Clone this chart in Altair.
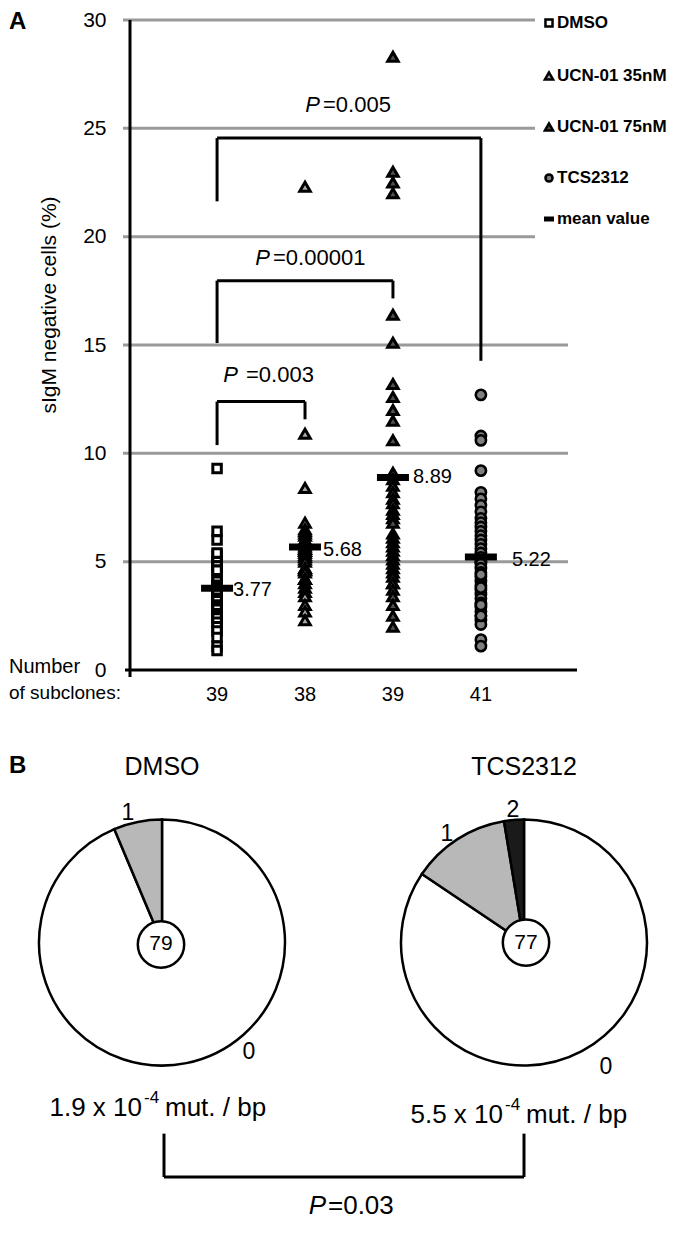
import altair as alt
import pandas as pd

FONT = "Liberation Sans"

# ---------------- data ----------------
groups = ["DMSO", "UCN-01 35nM", "UCN-01 75nM", "TCS2312"]
subclones = [39, 38, 39, 41]
means = [3.77, 5.68, 8.89, 5.22]
mean_labels = ["3.77", "5.68", "8.89", "5.22"]

dmso = [9.3, 6.4, 6.0, 5.3, 5.4, 4.9, 5.0, 5.0, 4.8, 4.8, 4.6, 4.6, 4.1, 4.1, 3.9,
        3.9, 3.8, 3.7, 3.6, 3.8, 3.8, 3.7, 3.6, 3.5, 3.3, 3.3, 3.2, 3.0, 2.9, 2.8,
        2.6, 2.5, 2.4, 2.2, 2.0, 1.8, 1.5, 1.1, 0.9]
ucn35 = [22.3, 10.9, 8.4, 6.8, 6.4, 6.5, 6.3, 6.2, 5.9, 6.0, 6.0, 5.9, 5.8, 5.6, 5.7,
         5.6, 5.5, 5.5, 5.4, 5.3, 5.2, 5.1, 5.0, 4.7, 4.6, 4.7, 4.6, 4.5, 4.2, 4.2,
         4.2, 4.0, 3.8, 3.6, 3.4, 3.0, 2.7, 2.3]
ucn75 = [28.3, 23.0, 22.5, 22.0, 16.4, 15.1, 13.2, 12.6, 12.0, 11.5, 10.6, 9.1, 8.8,
         8.5, 8.2, 7.9, 7.7, 7.4, 7.2, 7.0, 6.8, 6.3, 6.1, 5.9, 5.7, 5.5, 5.3, 5.1,
         4.9, 4.7, 4.5, 4.3, 4.0, 4.0, 3.7, 3.4, 3.0, 2.5, 2.0]
tcs = [12.7, 10.8, 10.6, 9.2, 8.2, 7.9, 7.6, 7.3, 7.0, 6.8, 6.6, 6.4, 6.2, 6.0, 5.8,
       5.6, 5.4, 5.2, 5.0, 5.0, 4.9, 4.7, 4.5, 4.3, 4.1, 3.9, 3.7, 3.5, 3.3, 3.1,
       2.9, 2.7, 2.5, 2.3, 2.1, 4.4, 3.0, 2.5, 1.4, 1.1, 3.8]
series = [dmso, ucn35, ucn75, tcs]

# significance brackets: (left group, right group, top, left foot, right foot, p)
brackets = [
    (0, 3, 24.55, 21.63, 14.27, "=0.005"),
    (0, 2, 17.97, 15.09, 17.15, "=0.00001"),
    (0, 1, 12.39, 10.38, 11.57, "=0.003"),
]

# panel B: number of mutations per sequence
mut_classes = ["0", "1", "2"]
pie_dmso = [74, 5]
pie_tcs = [65, 10, 2]
n_seq = ["79", "77"]
rates = ["1.9 x 10", "5.5 x 10"]

# ---------------- layout ----------------
PX0, PY0 = 130, 20          # page position of plot origin
W, H = 445, 650
grid_long = [5, 10, 15]
grid_short = [20, 25, 30]

one = pd.DataFrame({"k": [0]})


def px(x):
    return x - PX0


def py(y):
    return y - PY0


def vy(v):  # page y of a data value (panel A)
    return PY0 + H * (1 - v / 30.0)


def by(y):  # panel B vertical compression
    return 765 + (y - 765) * 0.965


yscale = alt.Scale(domain=[0, 30], nice=False)
yaxis = alt.Axis(values=[0, 5, 10, 15, 20, 25, 30], domain=False, ticks=False,
                 grid=False, labelFontSize=21, labelFont=FONT, labelColor="black",
                 labelPadding=24, title=None)
xscale = alt.Scale(domain=[-0.99, 4.07], nice=False, zero=False)


def Y(f):
    return alt.Y(f"{f}:Q", scale=yscale, axis=yaxis, title=None)


def X(f):
    return alt.X(f"{f}:Q", scale=xscale, axis=None, title=None)


def seg(x1, y1, x2, y2, w=3):
    return alt.Chart(one).mark_rule(color="black", strokeWidth=w).encode(
        x=alt.value(px(x1)), x2=alt.value(px(x2)),
        y=alt.value(py(y1)), y2=alt.value(py(y2)))


def txt(s, x, y, size=20, align="center", weight="normal", style="normal",
        angle=None, baseline="middle"):
    kw = dict(text=s, fontSize=size, align=align, baseline=baseline, font=FONT,
              fontWeight=weight, fontStyle=style, color="black")
    if angle is not None:
        kw["angle"] = angle
    return alt.Chart(one).mark_text(**kw).encode(x=alt.value(px(x)), y=alt.value(py(y)))


layers = []

# gridlines
layers.append(alt.Chart(pd.DataFrame({"v": grid_long})).mark_rule(
    color="#9a9a9a", strokeWidth=3).encode(y=Y("v"), x=alt.value(-7), x2=alt.value(438)))
layers.append(alt.Chart(pd.DataFrame({"v": grid_short})).mark_rule(
    color="#9a9a9a", strokeWidth=3).encode(y=Y("v"), x=alt.value(-7), x2=alt.value(405)))

# axes lines
layers.append(alt.Chart(one).mark_rule(color="black", strokeWidth=3).encode(
    x=alt.value(0), y=alt.value(0), y2=alt.value(H + 7)))
layers.append(alt.Chart(one).mark_rule(color="black", strokeWidth=3).encode(
    x=alt.value(-5), x2=alt.value(447), y=alt.value(H)))

# brackets
segs = []
for (a, b, top, fl, fr, _) in brackets:
    segs.append({"x": a, "x2": b, "y": top, "y2": top})
    segs.append({"x": a, "x2": a, "y": top, "y2": fl})
    segs.append({"x": b, "x2": b, "y": top, "y2": fr})
layers.append(alt.Chart(pd.DataFrame(segs)).mark_rule(color="black", strokeWidth=3).encode(
    x=X("x"), x2="x2:Q", y=Y("y"), y2="y2:Q"))

# points
styles = [
    dict(shape="square", fill="white", size=72, strokeWidth=3),
    dict(shape="triangle-up", fill="#a8a8a8", size=110, strokeWidth=3),
    dict(shape="triangle-up", fill="#505050", size=110, strokeWidth=3),
    dict(shape="circle", fill="#808080", size=105, strokeWidth=2.6),
]
for i, (vals, st) in enumerate(zip(series, styles)):
    df = pd.DataFrame({"idx": [i] * len(vals), "v": vals})
    layers.append(alt.Chart(df).mark_point(
        filled=True, stroke="black", opacity=1, fillOpacity=1, **st).encode(
        x=X("idx"), y=Y("v")))

# means
mdf = pd.DataFrame({"idx": list(range(4)), "v": means, "lab": mean_labels})
layers.append(alt.Chart(mdf).mark_tick(orient="horizontal", size=32, thickness=7,
                                       color="black", opacity=1).encode(x=X("idx"), y=Y("v")))
mean_dx = [16, 18, 20, 31]
mean_dy = [2, 3, 0, 3]
for i in range(4):
    layers.append(alt.Chart(mdf.iloc[[i]]).mark_text(
        align="left", baseline="middle", fontSize=20, font=FONT, color="black",
        dx=mean_dx[i], dy=mean_dy[i]).encode(x=X("idx"), y=Y("v"), text="lab:N"))

# subclone counts
cdf = pd.DataFrame({"idx": list(range(4)), "n": subclones})
layers.append(alt.Chart(cdf).mark_text(fontSize=20, font=FONT, color="black",
                                       baseline="middle").encode(
    x=X("idx"), y=alt.value(py(695)), text="n:Q"))

# p-values panel A
p_anchor = [(320, vy(26.1), 3), (270, vy(19.0), 3), (238, vy(13.6), 8)]
for (ax, ay, gap), br in zip(p_anchor, brackets):
    layers.append(txt("P", ax, ay, size=22, align="right", style="italic"))
    layers.append(txt(br[5], ax + gap, ay, size=22, align="left"))

# texts panel A
layers.append(txt("A", 9, 22, size=24, align="left", weight="bold"))
layers.append(txt("sIgM negative cells (%)", 50, 305, size=21, angle=270))
layers.append(txt("Number", 9, 667, size=20, align="left"))
layers.append(txt("of subclones:", 9, 693, size=19, align="left"))

# legend
leg_y = [23, 76, 127, 178, 219]
leg_sym = 549
for i, st in enumerate(styles):
    s = dict(st)
    s["size"] = 50 if s["shape"] != "triangle-up" else 66
    s["strokeWidth"] = 2.5
    layers.append(alt.Chart(one).mark_point(filled=True, stroke="black", opacity=1, **s).encode(
        x=alt.value(px(leg_sym)), y=alt.value(py(leg_y[i]))))
    layers.append(txt(groups[i], 557, leg_y[i], size=17, align="left", weight="bold"))
layers.append(seg(544, leg_y[4], 554, leg_y[4], w=5))
layers.append(txt("mean value", 557, leg_y[4], size=17, align="left", weight="bold"))

# ---------------- panel B ----------------
R = 123
pies = [(pie_dmso, 162), (pie_tcs, 524)]
cy = by(949)
fill_scale = alt.Scale(domain=mut_classes, range=["white", "#b8b8b8", "#1a1a1a"])
for counts, cx in pies:
    df = pd.DataFrame({"cls": mut_classes[:len(counts)], "n": counts,
                       "o": list(range(len(counts)))})
    layers.append(alt.Chart(df).mark_arc(radius=R, stroke="black", strokeWidth=2.5).encode(
        theta=alt.Theta("n:Q", stack="normalize"),
        order=alt.Order("o:Q"),
        fill=alt.Fill("cls:N", scale=fill_scale, legend=None),
        x=alt.value(px(cx)), y=alt.value(py(cy))))

inner = [(161, by(951)), (526, by(949))]
for (ix, iy), lab in zip(inner, n_seq):
    layers.append(alt.Chart(one).mark_point(shape="circle", filled=True, fill="white",
                                            stroke="black", strokeWidth=2.5, opacity=1,
                                            size=2150).encode(
        x=alt.value(px(ix)), y=alt.value(py(iy))))
    layers.append(txt(lab, ix, iy, size=21))

layers.append(txt("B", 9, 766, size=24, align="left", weight="bold"))
layers.append(txt("DMSO", 162, 767, size=25))
layers.append(txt("TCS2312", 524, 767, size=25))

# slice labels
layers.append(txt("1", 128, by(815), size=23))
layers.append(txt("0", 249, by(1062), size=23))
layers.append(txt("1", 447, by(837), size=23))
layers.append(txt("2", 513, by(812), size=23))
layers.append(txt("0", 606, by(1078), size=23))

# mutation rates
rate_pos = [(142, by(1120)), (503, by(1128))]
for (rx, ry), r in zip(rate_pos, rates):
    layers.append(txt(r, rx, ry, size=26, align="right"))
    layers.append(txt("-4", rx + 2, ry - 10, size=17, align="left"))
    layers.append(txt("mut. / bp", rx + 23, ry, size=26, align="left"))

# bracket panel B
layers.append(seg(164, by(1147), 164, by(1192)))
layers.append(seg(524, by(1147), 524, by(1192)))
layers.append(seg(164, by(1192), 524, by(1192)))
layers.append(txt("P", 326, by(1222), size=26, align="right", style="italic"))
layers.append(txt("=0.03", 328, by(1222), size=26, align="left"))

chart = alt.layer(*layers).properties(
    width=W, height=H,
    padding={"left": PX0 - 8, "top": PY0 - 8, "right": 672 - (PX0 + W), "bottom": 1220 - (PY0 + H)},
    autosize=alt.AutoSizeParams(type="none"),
    background="white",
).configure_view(stroke=None)

chart.save("out.html", embed_options={"renderer": "svg", "actions": False})
